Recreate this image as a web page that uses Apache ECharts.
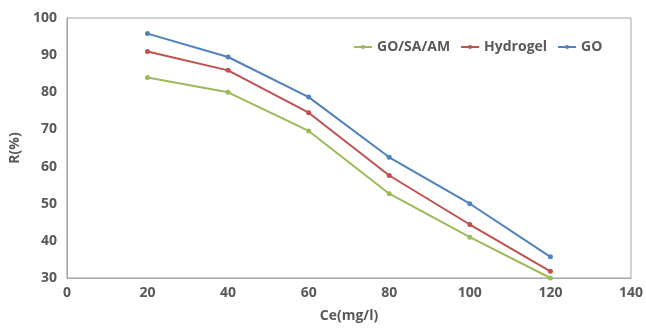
<!DOCTYPE html>
<html><head><meta charset="utf-8">
<script src="https://cdn.jsdelivr.net/npm/echarts@6/dist/echarts.min.js"></script>
<style>html,body{margin:0;padding:0;background:#fff}#c{width:646px;height:328px}</style>
</head><body><div id="c"></div>
<script>
const ce = [20, 40, 60, 80, 100, 120];
const goSaAm = [84, 80, 69.6, 52.7, 41, 30];
const hydrogel = [91, 85.9, 74.5, 57.6, 44.4, 31.8];
const go = [95.8, 89.5, 78.7, 62.5, 50, 35.7];
const seriesNames = ['GO/SA/AM', 'Hydrogel', 'GO'];
const colors = ['#9BBB59', '#C0504D', '#4F81BD'];

const chart = echarts.init(document.getElementById('c'));
const font = {fontFamily: 'Open Sans', fontWeight: 'bold', fontSize: 14, color: '#595959'};
function mk(name, vals, i) {
  return {
    name, type: 'line', data: ce.map((x, k) => [x, vals[k]]),
    symbol: 'circle', symbolSize: 5,
    lineStyle: {color: colors[i], width: 2}, itemStyle: {color: colors[i]}
  };
}
chart.setOption({
  animation: false,
  grid: {left: 65, right: 12, top: 18, bottom: 44, show: true, borderColor: '#a6a6a6', borderWidth: 1},
  legend: {
    data: seriesNames, top: 35, left: 348, itemWidth: 18, itemHeight: 5, itemGap: 10,
    textStyle: font
  },
  xAxis: {
    type: 'value', min: 0, max: 140, interval: 20,
    name: 'Ce(mg/l)', nameLocation: 'middle', nameGap: 31, nameTextStyle: font,
    axisLine: {lineStyle: {color: '#a6a6a6'}}, axisTick: {show: false},
    splitLine: {show: false}, axisLabel: Object.assign({margin: 8}, font)
  },
  yAxis: {
    type: 'value', min: 30, max: 100, interval: 10,
    name: 'R(%)', nameLocation: 'middle', nameGap: 44, nameTextStyle: font,
    axisLine: {show: true, lineStyle: {color: '#a6a6a6'}}, axisTick: {show: false},
    splitLine: {show: false}, axisLabel: Object.assign({margin: 10}, font)
  },
  series: [mk(seriesNames[0], goSaAm, 0), mk(seriesNames[1], hydrogel, 1), mk(seriesNames[2], go, 2)]
});
</script></body></html>
